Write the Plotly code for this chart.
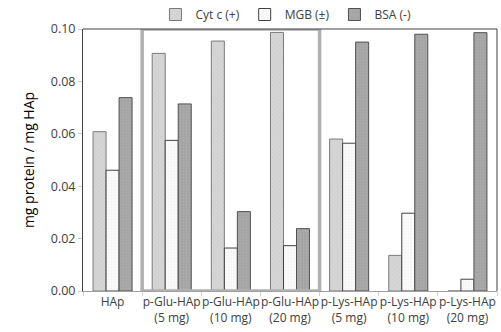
import plotly.graph_objects as go

categories = ["HAp", "p-Glu-HAp<br>(5 mg)", "p-Glu-HAp<br>(10 mg)", "p-Glu-HAp<br>(20 mg)",
              "p-Lys-HAp<br>(5 mg)", "p-Lys-HAp<br>(10 mg)", "p-Lys-HAp<br>(20 mg)"]
cyt_c = [0.0608, 0.0907, 0.0954, 0.0987, 0.0580, 0.0136, 0.0]
mgb = [0.0461, 0.0575, 0.0164, 0.0173, 0.0564, 0.0297, 0.0045]
bsa = [0.0738, 0.0714, 0.0303, 0.0238, 0.0950, 0.0980, 0.0986]
series_names = ["Cyt c (+)", "MGB (±)", "BSA (-)"]
y_ticks = [0.00, 0.02, 0.04, 0.06, 0.08, 0.10]

fig = go.Figure()
styles = [
    dict(color="#d6d6d6", line=dict(color="#7a7a7a", width=1), pattern=dict(shape="/", fgcolor="#c4c4c4", size=3, solidity=0.3)),
    dict(color="#fbfbfb", line=dict(color="#404040", width=1), pattern=dict(shape=".", fgcolor="#e8e8e8", size=3, solidity=0.3)),
    dict(color="#a3a3a3", line=dict(color="#505050", width=1), pattern=dict(shape=".", fgcolor="#b8b8b8", size=3, solidity=0.3)),
]
for name, vals, st in zip(series_names, [cyt_c, mgb, bsa], styles):
    fig.add_trace(go.Bar(x=categories, y=vals, name=name, marker=st))

glu_first = 1
glu_last = 3
fig.add_shape(type="rect", xref="x", yref="y",
              x0=glu_first - 0.5, x1=glu_last + 0.5, y0=0, y1=0.1,
              line=dict(color="#b0b0b0", width=3.5), layer="above")
fig.add_shape(type="line", xref="paper", yref="paper", x0=0, x1=1, y0=1, y1=1,
              line=dict(color="#404040", width=1))
fig.add_shape(type="line", xref="paper", yref="paper", x0=1, x1=1, y0=0, y1=1,
              line=dict(color="#404040", width=1))

fig.update_layout(
    width=501, height=332,
    margin=dict(l=83, r=4, t=29, b=41, autoexpand=False),
    paper_bgcolor="white", plot_bgcolor="white",
    font=dict(family="Open Sans, sans-serif", size=12, color="#404040"),
    barmode="group", bargap=0.34, bargroupgap=0,
    showlegend=True,
    legend=dict(orientation="h", x=0.175, xanchor="left", y=1.0, yanchor="bottom",
                font=dict(size=12, color="#404040"), itemwidth=30,
                bgcolor="rgba(0,0,0,0)", tracegroupgap=0),
)
fig.update_xaxes(
    type="category", tickson="boundaries", tickangle=0, automargin=False,
    range=[-0.5, len(categories) - 0.5],
    showline=True, linecolor="#a0a0a0", linewidth=1,
    ticks="outside", ticklen=4, tickcolor="#d0d0d0",
    showgrid=False, tickfont=dict(size=12, color="#404040"),
)
fig.update_yaxes(
    range=[0, 0.1], tickvals=y_ticks, tickformat=".2f", automargin=False,
    showline=True, linecolor="#404040", linewidth=1,
    ticks="outside", ticklen=4, tickcolor="#d0d0d0",
    showgrid=False, zeroline=False,
    title=dict(text="mg protein / mg HAp", font=dict(size=14, color="#000000"), standoff=12),
    tickfont=dict(size=12.5, color="#404040"),
)
fig.write_html("out.html", config={"displayModeBar": False},
               post_script="document.body.style.margin='0';document.body.style.overflow='hidden';")
